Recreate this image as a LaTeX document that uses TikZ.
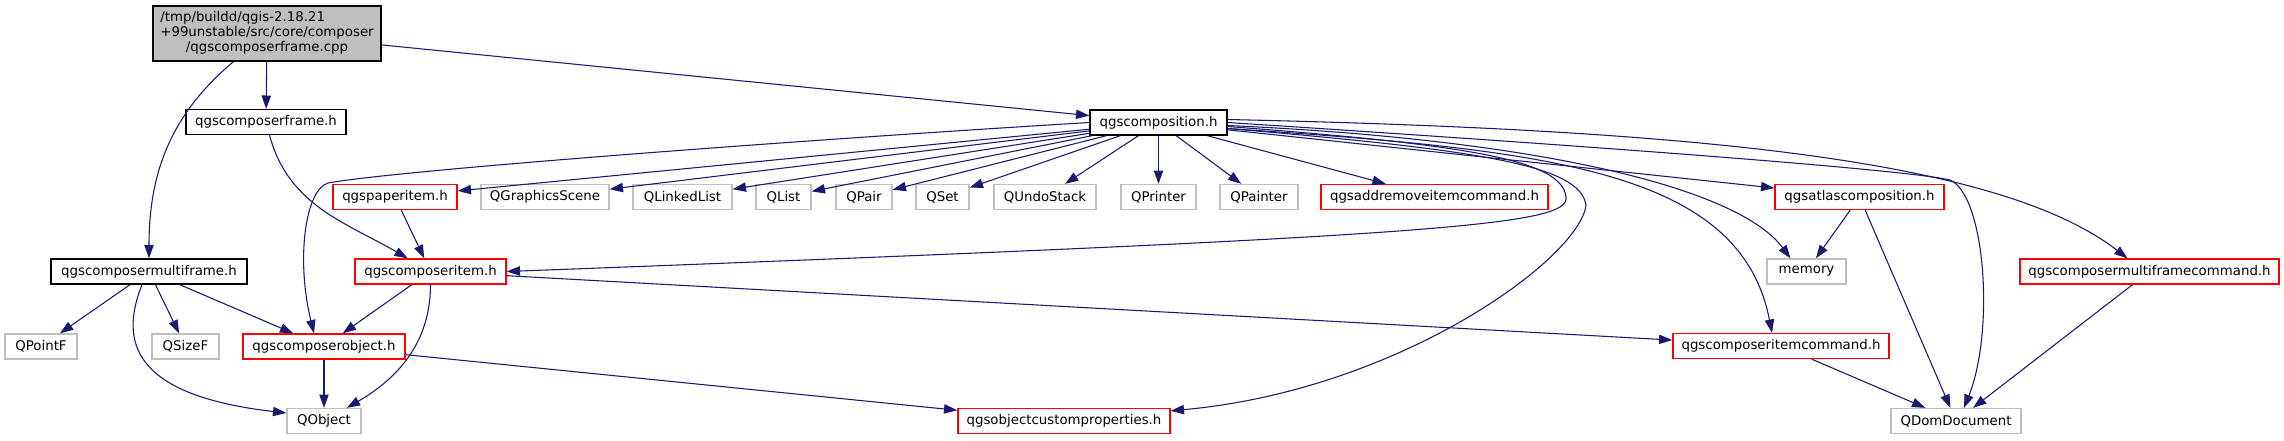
\documentclass[tikz,border=0pt]{standalone}
\usepackage{fontspec}
\setmainfont{DejaVu Sans}
\usetikzlibrary{arrows.meta,calc}
\definecolor{doxblue}{HTML}{191970}
\definecolor{doxred}{HTML}{FF0000}
\definecolor{doxgray}{HTML}{BFBFBF}

\begin{document}
\begin{tikzpicture}[x=0.75pt, y=-0.75pt, >={Triangle[length=10pt,width=7pt]},
	file/.style={draw, line width=1pt, inner sep=0pt, minimum height=18.75pt, font=\fontsize{10}{11}\selectfont},
	hdr/.style={file, draw=black},
	doc/.style={file, draw=doxred},
	ext/.style={file, draw=doxgray},
	wd/.style={minimum width=#1*0.75pt},
	dep/.style={->, draw=doxblue, line width=0.8pt},
	every edge/.style={dep}]
			\useasboundingbox (0,0) rectangle (2284,440);

			\node[hdr, fill=doxgray, wd=228, minimum height=41.25pt] (cpp) at (267,33.5)
				{\begin{tabular}{@{}l@{}}/tmp/buildd/qgis-2.18.21\\+99unstable/src/core/composer\\\multicolumn{1}{@{}c@{}}{/qgscomposerframe.cpp}\end{tabular}};
			\node[hdr, wd=160] (frameh) at (266,122) {qgscomposerframe.h};
			\node[hdr, wd=137] (comp) at (1158.5,122.5) {qgscomposition.h};
			\node[hdr, wd=196] (multi) at (149,271.5) {qgscomposermultiframe.h};

			\node[doc, wd=124] (paper) at (395,197) {qgspaperitem.h};
			\node[ext, wd=128] (gscene) at (545,197) {QGraphicsScene};
			\node[ext, wd=99] (llist) at (682.5,197) {QLinkedList};
			\node[ext, wd=55] (qlist) at (783.5,197) {QList};
			\node[ext, wd=56] (qpair) at (864,197) {QPair};
			\node[ext, wd=53] (qset) at (942.5,197) {QSet};
			\node[ext, wd=102] (undo) at (1045,197) {QUndoStack};
			\node[ext, wd=75] (printer) at (1158.5,197) {QPrinter};
			\node[ext, wd=78] (painter) at (1259,197) {QPainter};
			\node[doc, wd=227] (addrm) at (1434.5,197) {qgsaddremoveitemcommand.h};
			\node[doc, wd=169] (atlas) at (1859.5,197) {qgsatlascomposition.h};

			\node[doc, wd=151] (item) at (430.5,271.5) {qgscomposeritem.h};
			\node[ext, wd=79] (memory) at (1806.5,271.5) {memory};
			\node[doc, wd=259] (mfcmd) at (2149.5,271.5) {qgscomposermultiframecommand.h};

			\node[ext, wd=72] (pointf) at (41,346.5) {QPointF};
			\node[ext, wd=67] (sizef) at (185.5,346.5) {QSizeF};
			\node[doc, wd=162] (obj) at (324,346.5) {qgscomposerobject.h};
			\node[doc, wd=216] (itemcmd) at (1781,346) {qgscomposeritemcommand.h};

			\node[ext, wd=74] (qobject) at (324,421) {QObject};
			\node[doc, wd=212] (custprop) at (1064,421) {qgsobjectcustomproperties.h};
			\node[ext, wd=130] (domdoc) at (1956,421) {QDomDocument};

			\path
			(cpp) edge (frameh)
			(cpp) edge (comp)
			(cpp) edge[out=220, in=90] (multi)
			(frameh) edge[out=-75, in=150] (item)
			(multi) edge (pointf)
			(multi) edge (sizef)
			(multi) edge (obj)
			(paper) edge (item)
			(item) edge (obj)
			(item) edge[out=-90, in=30] (qobject)
			(item) edge (itemcmd)
			(obj) edge (qobject)
			(obj) edge (custprop)
			(comp) edge (paper)
			(comp) edge (gscene)
			(comp) edge (llist)
			(comp) edge (qlist)
			(comp) edge (qpair)
			(comp) edge (qset)
			(comp) edge (undo)
			(comp) edge (printer)
			(comp) edge (painter)
			(comp) edge (addrm)
			(comp) edge (atlas)
			(atlas) edge (memory)
			(atlas) edge (domdoc)
			(itemcmd) edge (domdoc)
			(mfcmd) edge (domdoc);

			\draw[dep] ($(multi.south)+(-7,0)$) .. controls (120,340) and (130,395) .. ($(qobject.west)+(0,-8)$);
			\draw[dep] (comp.west) .. controls (800,140) and (400,170) .. (328,183)
				.. controls (305,190) and (296,260) .. ($(obj.north)+(-10,0)$);
			\draw[dep] ($(comp.east)+(0,4)$) .. controls (1470,145) and (1562,160) .. (1566,197)
				.. controls (1570,225) and (1450,236) .. (item.east);
			\draw[dep] ($(comp.east)+(0,6)$) .. controls (1480,150) and (1580,165) .. (1586,205)
				.. controls (1580,258) and (1400,390) .. ($(custprop.north east)+(0,3)$);
			\draw[dep] ($(comp.east)+(0,6)$) .. controls (1550,150) and (1740,170) .. ($(itemcmd.north)+(-9,0)$);
			\draw[dep] ($(comp.east)+(0,3)$) .. controls (1550,140) and (1740,190) .. ($(memory.north)+(-16,0)$);
			\draw[dep] (comp.east) .. controls (1500,140) and (1900,168) .. (1950,180)
				.. controls (1985,195) and (1995,330) .. ($(domdoc.north)+(8,0)$);
			\draw[dep] ($(comp.east)+(0,-3)$) .. controls (1700,130) and (2000,160) .. ($(mfcmd.north)+(-22,0)$);

		\end{tikzpicture}
\end{document}
